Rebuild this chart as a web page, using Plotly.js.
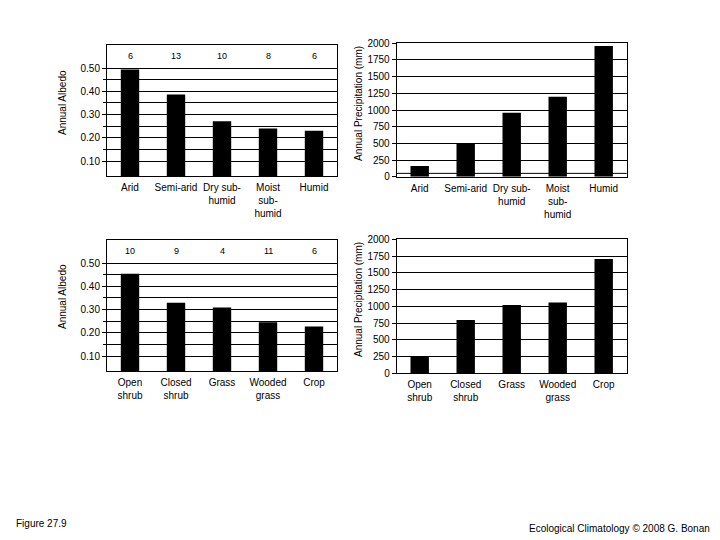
<!DOCTYPE html>
<html>
<head>
<meta charset="utf-8">
<script src="https://cdn.plot.ly/plotly-3.0.1.min.js"></script>
<style>
  html, body { margin: 0; padding: 0; background: white; }
  #chart { width: 720px; height: 540px; }
</style>
</head>
<body>
<div id="chart"></div>
<script>
  // climate zones (top row)
  const climateLabels = ['Arid', 'Semi-arid', 'Dry sub-<br>humid', 'Moist<br>sub-<br>humid', 'Humid'];
  const climateAlbedo = [0.494, 0.386, 0.271, 0.240, 0.231];
  const climateCounts = [6, 13, 10, 8, 6];
  const climatePrecip = [160, 500, 960, 1200, 1960];

  // land cover (bottom row)
  const coverLabels = ['Open<br>shrub', 'Closed<br>shrub', 'Grass', 'Wooded<br>grass', 'Crop'];
  const coverAlbedo = [0.454, 0.329, 0.309, 0.246, 0.227];
  const coverCounts = [10, 9, 4, 11, 6];
  const coverPrecip = [255, 795, 1020, 1055, 1705];

  const albedoTicks = [0.10, 0.20, 0.30, 0.40, 0.50];
  const albedoMinor = [0.15, 0.25, 0.35, 0.45];
  const precipTicks = [0, 250, 500, 750, 1000, 1250, 1500, 1750, 2000];

  const FONT = 'Arial, "Liberation Sans", sans-serif';

  function bar(x, y, xa, ya) {
    return {
      type: 'bar', x: x, y: y, xaxis: xa, yaxis: ya,
      marker: { color: '#000000', line: { width: 0 } },
      hoverinfo: 'skip'
    };
  }

  function xAxis(domain, anchor) {
    return {
      domain: domain, anchor: anchor, type: 'category',
      showline: true, mirror: true, linecolor: '#000', linewidth: 1,
      showgrid: false, ticks: '', tickfont: { size: 10, color: '#000' },
      ticklabelstandoff: 2, fixedrange: true
    };
  }

  function albedoAxis(domain, anchor) {
    return {
      domain: domain, anchor: anchor, range: [0.0365, 0.60],
      tickvals: albedoTicks, ticktext: albedoTicks.map(v => v.toFixed(2)),
      ticks: 'outside', ticklen: 4, tickcolor: '#000',
      showline: true, mirror: true, linecolor: '#000', linewidth: 1,
      showgrid: true, gridcolor: '#000', gridwidth: 1, zeroline: false,
      minor: { tickvals: albedoMinor, showgrid: true, gridcolor: '#000', gridwidth: 1, ticks: 'outside', ticklen: 3, tickcolor: '#000' },
      tickfont: { size: 10, color: '#000' }, fixedrange: true
    };
  }

  function precipAxis(domain, anchor) {
    return {
      domain: domain, anchor: anchor, range: [0, 2000],
      tickvals: precipTicks,
      ticks: 'outside', ticklen: 4, tickcolor: '#000',
      showline: true, mirror: true, linecolor: '#000', linewidth: 1,
      showgrid: true, gridcolor: '#000', gridwidth: 1, zeroline: false,
      tickfont: { size: 10, color: '#000' }, fixedrange: true
    };
  }

  const data = [
    bar(climateLabels, climateAlbedo, 'x', 'y'),
    bar(climateLabels, climatePrecip, 'x2', 'y2'),
    bar(coverLabels, coverAlbedo, 'x3', 'y3'),
    bar(coverLabels, coverPrecip, 'x4', 'y4')
  ];

  const annotations = [];
  climateLabels.forEach((c, i) => {
    annotations.push({ xref: 'x', yref: 'y', x: c, y: 0.553, text: String(climateCounts[i]), showarrow: false, font: { size: 9, color: '#000' } });
  });
  coverLabels.forEach((c, i) => {
    annotations.push({ xref: 'x3', yref: 'y3', x: c, y: 0.553, text: String(coverCounts[i]), showarrow: false, font: { size: 9, color: '#000' } });
  });

  // axis titles and footer
  const side = (x, y, text) => ({
    xref: 'paper', yref: 'paper', x: x, y: y, xanchor: 'center', yanchor: 'middle',
    text: text, textangle: -90, showarrow: false, font: { size: 10, color: '#000' }
  });
  annotations.push(side(62 / 720, 1 - 103 / 540, 'Annual Albedo'));
  annotations.push(side(358 / 720, 1 - 104 / 540, 'Annual Precipitation (mm)'));
  annotations.push(side(62 / 720, 1 - 297 / 540, 'Annual Albedo'));
  annotations.push(side(358 / 720, 1 - 300 / 540, 'Annual Precipitation (mm)'));
  annotations.push({ xref: 'paper', yref: 'paper', x: 14 / 720, y: 1 - 523 / 540, xanchor: 'left', yanchor: 'middle', text: 'Figure 27.9', showarrow: false, font: { size: 10, color: '#000' } });
  annotations.push({ xref: 'paper', yref: 'paper', x: 712 / 720, y: 1 - 528 / 540, xanchor: 'right', yanchor: 'middle', text: 'Ecological Climatology © 2008 G. Bonan', showarrow: false, font: { size: 10, color: '#000' } });

  const layout = {
    width: 720, height: 540,
    margin: { l: 0, r: 0, t: 0, b: 0 },
    paper_bgcolor: 'white', plot_bgcolor: 'white',
    font: { family: FONT, size: 10, color: '#000' },
    showlegend: false, bargap: 0.6,
    xaxis: xAxis([107 / 720, 337 / 720], 'y'),
    yaxis: albedoAxis([1 - 176 / 540, 1 - 44.7 / 540], 'x'),
    xaxis2: xAxis([396.7 / 720, 626.7 / 720], 'y2'),
    yaxis2: precipAxis([1 - 176.7 / 540, 1 - 43.3 / 540], 'x2'),
    xaxis3: xAxis([107 / 720, 337 / 720], 'y3'),
    yaxis3: albedoAxis([1 - 371 / 540, 1 - 239.7 / 540], 'x3'),
    xaxis4: xAxis([396.7 / 720, 626.7 / 720], 'y4'),
    yaxis4: precipAxis([1 - 373.3 / 540, 1 - 239.3 / 540], 'x4'),
    shapes: [
      // extra horizontal rule just above the base of the upper precipitation panel
      { type: 'line', xref: 'x2 domain', yref: 'y2', x0: 0, x1: 1, y0: 50, y1: 50, line: { color: '#000', width: 1 }, layer: 'below' }
    ],
    annotations: annotations
  };

  Plotly.newPlot('chart', data, layout, { displayModeBar: false, staticPlot: true });
</script>
</body>
</html>
